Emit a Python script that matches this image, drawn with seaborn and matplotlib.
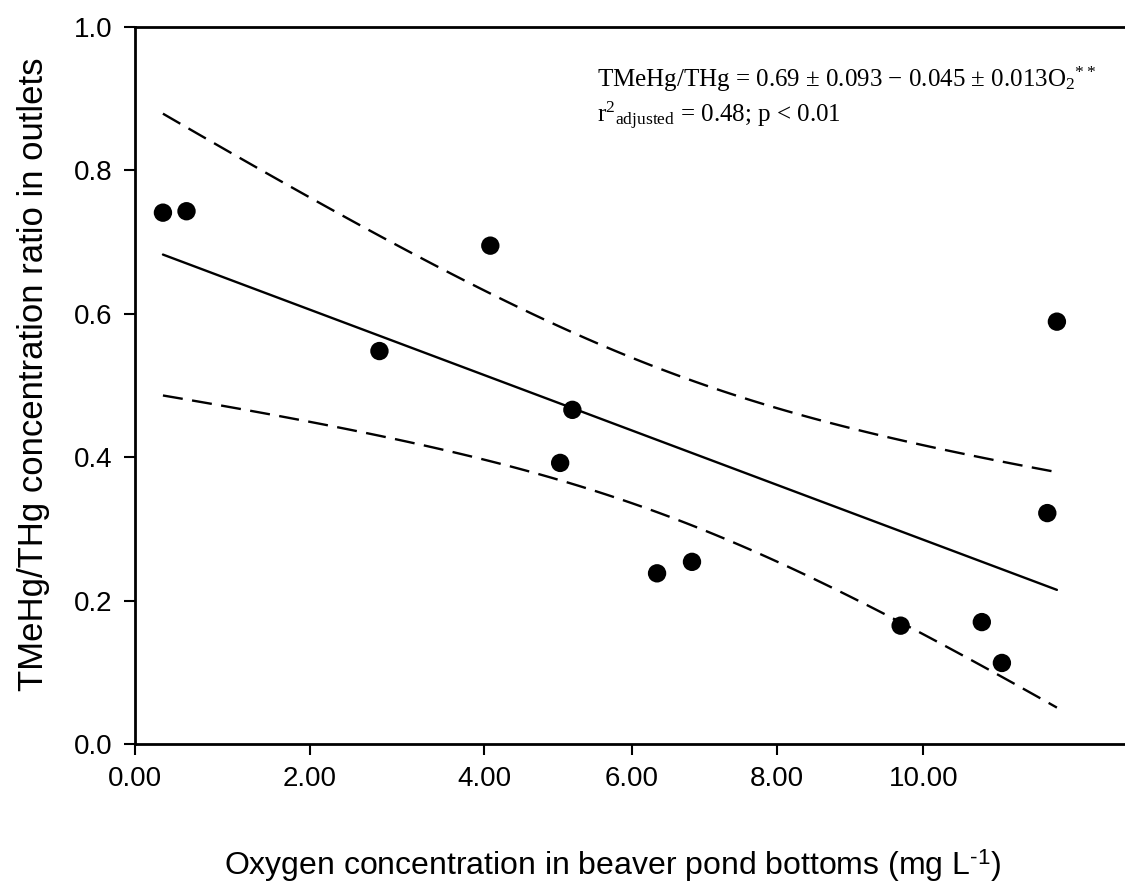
import numpy as np
import pandas as pd
import matplotlib
matplotlib.use("Agg")
import matplotlib.pyplot as plt
import seaborn as sns

# oxygen (mg/L) and TMeHg/THg ratio
oxygen = [0.32, 0.59, 4.07, 2.80, 5.01, 4.87, 5.98, 6.38, 8.77, 9.70, 9.93, 10.45, 10.56]
ratio = [0.741, 0.743, 0.695, 0.548, 0.466, 0.392, 0.238, 0.254, 0.165, 0.170, 0.113, 0.322, 0.589]

# x tick labels sit where the original figure put them
x_tick_pos = [0, 2, 4, 5.69, 7.35, 9.03]
x_tick_labels = ["0.00", "2.00", "4.00", "6.00", "8.00", "10.00"]
y_ticks = [0.0, 0.2, 0.4, 0.6, 0.8, 1.0]

sns.set_style("ticks")
plt.rcParams["font.family"] = ["Liberation Sans", "DejaVu Sans"]
plt.rcParams["mathtext.fontset"] = "custom"
plt.rcParams["mathtext.rm"] = "Liberation Serif"
plt.rcParams["mathtext.it"] = "Liberation Serif:italic"
plt.rcParams["mathtext.sf"] = "Liberation Sans"
for key in ["text.color", "axes.labelcolor", "xtick.color", "ytick.color"]:
    plt.rcParams[key] = "black"

df = pd.DataFrame({"oxygen": oxygen, "ratio": ratio})

# linear fit with 95% confidence band
x = df["oxygen"].to_numpy()
y = df["ratio"].to_numpy()
n = len(x)
slope, intercept = np.polyfit(x, y, 1)
resid = y - (intercept + slope * x)
s = np.sqrt(np.sum(resid ** 2) / (n - 2))
sxx = np.sum((x - x.mean()) ** 2)
t_crit = 2.201  # t(0.975, 11)
grid = np.linspace(x.min(), x.max(), 100)
fit = intercept + slope * grid
half = t_crit * s * np.sqrt(1 / n + (grid - x.mean()) ** 2 / sxx)
fit_df = pd.DataFrame({"oxygen": grid, "fit": fit, "lower": fit - half, "upper": fit + half})

fig = plt.figure(figsize=(11.25, 8.84), dpi=100)
ax = fig.add_axes([0.12, 0.1584, 0.88, 0.8111])

sns.lineplot(data=fit_df, x="oxygen", y="fit", color="black", lw=1.7, ax=ax, estimator=None)
sns.lineplot(data=fit_df, x="oxygen", y="upper", color="black", lw=1.7, linestyle=(0, (8.5, 4)), ax=ax, estimator=None)
sns.lineplot(data=fit_df, x="oxygen", y="lower", color="black", lw=1.7, linestyle=(0, (8.5, 4)), ax=ax, estimator=None)
sns.scatterplot(data=df, x="oxygen", y="ratio", color="black", s=175, edgecolor="none", ax=ax, zorder=3)

ax.set_xlim(0, 11.34)
ax.set_ylim(0, 1.0)
ax.set_xticks(x_tick_pos)
ax.set_xticklabels(x_tick_labels)
ax.set_yticks(y_ticks)
ax.set_yticklabels([f"{v:.1f}" for v in y_ticks])
ax.tick_params(axis="both", direction="out", length=8, width=1.5, labelsize=20, pad=8)

for side in ["left", "top", "bottom"]:
    ax.spines[side].set_linewidth(2)
    ax.spines[side].set_color("black")
ax.spines["right"].set_visible(False)

ax.set_xlabel("Oxygen concentration in beaver pond bottoms (mg L$^{\\mathsf{\u2010}\\mathsf{1}}$)", fontsize=23)
ax.set_ylabel("TMeHg/THg concentration ratio in outlets", fontsize=25)
ax.xaxis.set_label_coords(0.482, -0.1435)
ax.yaxis.set_label_coords(-0.086, 0.515)

ax.text(0.4667, 0.916, "TMeHg/THg = 0.69 ± 0.093 − 0.045 ± 0.013O$_2$$^{**}$",
        transform=ax.transAxes, fontsize=18, family="Liberation Serif", va="baseline")
ax.text(0.4667, 0.8675, "r$^2$$_{\\mathrm{adjusted}}$ = 0.48; p < 0.01",
        transform=ax.transAxes, fontsize=18, family="Liberation Serif", va="baseline")

fig.savefig("out.png", dpi=100)
